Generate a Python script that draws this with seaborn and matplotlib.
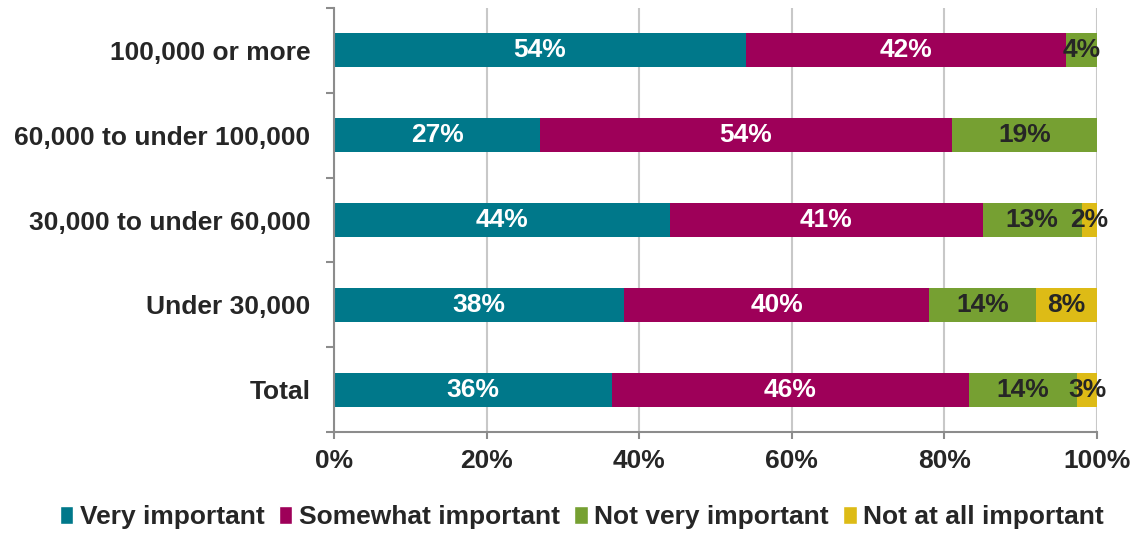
import numpy as np
import pandas as pd
import matplotlib
matplotlib.use("Agg")
import matplotlib.pyplot as plt
from matplotlib.patches import Patch
from matplotlib.ticker import MultipleLocator, FixedLocator, PercentFormatter
import seaborn as sns

categories = ["100,000 or more", "60,000 to under 100,000", "30,000 to under 60,000",
              "Under 30,000", "Total"]
series = ["Very important", "Somewhat important", "Not very important", "Not at all important"]
very = [54, 27, 44, 38, 36.4]
somewhat = [42, 54, 41, 40, 46.8]
not_very = [4, 19, 13, 14, 14.2]
not_at_all = [0, 0, 2, 8, 2.6]
labels = {
    "Very important": ["54%", "27%", "44%", "38%", "36%"],
    "Somewhat important": ["42%", "54%", "41%", "40%", "46%"],
    "Not very important": ["4%", "19%", "13%", "14%", "14%"],
    "Not at all important": ["", "", "2%", "8%", "3%"],
}
colors = ["#00788A", "#9E0059", "#76A032", "#DDBB16"]
label_colors = ["white", "white", "#262626", "#262626"]

sns.set_style("white")
plt.rcParams["font.family"] = ["Liberation Sans", "DejaVu Sans"]
plt.rcParams["font.weight"] = "bold"

fig = plt.figure(figsize=(11.34, 5.33), dpi=100)
ax = fig.add_axes([334 / 1134, 1 - 432 / 533, (1097 - 334) / 1134, (432 - 8) / 533])

vals = np.array([very, somewhat, not_very, not_at_all], dtype=float)
cum = np.cumsum(vals, axis=0)

# Draw layered cumulative bars (largest first)
for i in range(len(series) - 1, -1, -1):
    df = pd.DataFrame({"cat": categories, "val": cum[i]})
    sns.barplot(data=df, x="val", y="cat", order=categories, color=colors[i],
                width=0.4, ax=ax, saturation=1, linewidth=0, errorbar=None)

# labels
for i, s in enumerate(series):
    for j, c in enumerate(categories):
        if vals[i, j] <= 0 or not labels[s][j]:
            continue
        xc = cum[i, j] - vals[i, j] / 2
        ax.text(xc, j, labels[s][j], ha="center", va="center", color=label_colors[i],
                fontsize=19, fontweight="bold")

ax.set_xlim(0, 100)
ax.set_ylim(4.5, -0.5)
ax.set_xlabel("")
ax.set_ylabel("")
ax.xaxis.set_major_locator(MultipleLocator(20))
ax.xaxis.set_major_formatter(PercentFormatter(decimals=0))
ax.grid(axis="x", color="#C8C8C8", linewidth=1.5)
ax.grid(axis="y", visible=False)
ax.set_axisbelow(True)

for side in ["top", "right"]:
    ax.spines[side].set_visible(False)
for side in ["left", "bottom"]:
    ax.spines[side].set_color("#8C8C8C")
    ax.spines[side].set_linewidth(1.5)

ax.yaxis.set_minor_locator(FixedLocator(np.arange(-0.5, 5, 1)))
ax.tick_params(axis="y", which="major", length=0, pad=17, labelsize=19, labelcolor="#262626")
ax.tick_params(axis="y", which="minor", length=6, width=1.5, color="#8C8C8C", left=True)
ax.tick_params(axis="x", which="major", length=5, width=1.5, color="#8C8C8C", bottom=True,
               pad=7, labelsize=19, labelcolor="#262626")
for t in ax.get_yticklabels() + ax.get_xticklabels():
    t.set_fontweight("bold")

handles = [Patch(facecolor=colors[i], label=series[i]) for i in range(len(series))]
fig.legend(handles=handles, loc="center", bbox_to_anchor=(582 / 1134, 1 - 517 / 533), ncol=4,
           frameon=False, handlelength=0.5, handleheight=0.65, handletextpad=0.25,
           columnspacing=0.55, prop={"size": 19, "weight": "bold"},
           labelcolor="#262626")

fig.savefig("out.png", dpi=100)
